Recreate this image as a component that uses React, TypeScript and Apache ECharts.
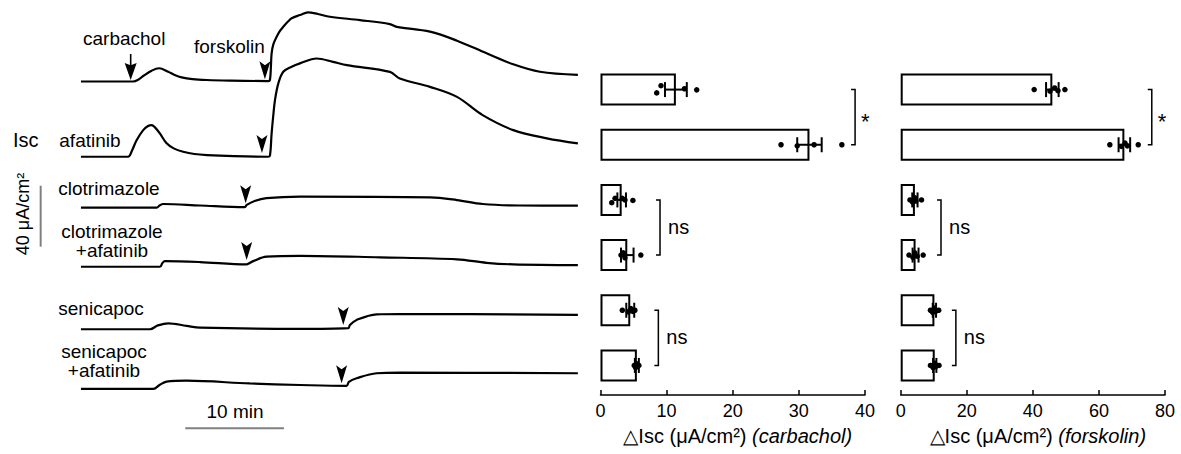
import React, { useEffect, useRef } from "react";
import * as echarts from "echarts";

const FONT = "'Liberation Sans', Arial, Helvetica, sans-serif";

// ---- Isc traces: time (min) and Isc (µA/cm², relative to each trace's baseline)
const controlTime = [0, 5.3, 5.8, 6.31, 7.16, 7.93, 8.84, 9.5, 10.2, 11.3, 12.74, 15.0, 18.98, 19.15, 19.25, 19.32, 19.5, 19.83, 20.2, 20.5, 21.0, 21.35, 22.19, 23.0, 24.0, 25.23, 28.27, 31.3, 32.0, 35.36, 38.1, 41.1, 43.8, 46.5, 50.35];
const controlIsc = [0, 0, 1.2, 3.6, 7.1, 8.7, 6.4, 4.3, 2.75, 1.6, 1.0, 0.6, 0.3, 1.0, 10.0, 18.5, 24.5, 29.4, 33.5, 35.9, 39.5, 41.5, 43.6, 45.4, 44.3, 42.5, 40.3, 37.7, 35.9, 32.7, 26.8, 18.5, 11.3, 6.4, 4.3];

const afatinibTime = [0, 4.76, 5.2, 5.64, 6.31, 6.8, 7.16, 7.5, 8.0, 8.68, 9.4, 10.36, 11.5, 12.77, 15.5, 18.95, 19.15, 19.32, 19.5, 19.66, 20.0, 20.5, 21.35, 22.19, 23.88, 25.53, 26.95, 31.3, 32.3, 35.36, 38.1, 40.7, 43.8, 47.2, 50.35];
const afatinibIsc = [0, 0, 4.5, 10.9, 17.5, 20.2, 20.8, 19.3, 15.3, 8.8, 5.5, 3.3, 1.8, 1.1, 0.4, 0, 0.8, 15.3, 28.0, 37.2, 48.2, 55.8, 59.1, 61.3, 64.5, 62.3, 60.1, 55.7, 51.4, 45.9, 39.3, 27.3, 17.5, 12.1, 8.8];

const clotTime = [0, 7.67, 8.0, 8.34, 12.06, 16.6, 16.8, 17.6, 18.8, 22.2, 35.4, 38.1, 40.7, 44.5, 50.35];
const clotIsc = [0, 0, 1.6, 2.4, 1.4, 0.3, 1.8, 4.4, 6.2, 7.2, 6.7, 5.0, 2.4, 1.4, 1.3];

const clotAfaTime = [0, 8.0, 8.25, 8.5, 12.06, 16.8, 17.0, 17.46, 18.8, 22.2, 30.3, 38.1, 41.1, 43.8, 50.35];
const clotAfaIsc = [0, 0, 2.4, 3.7, 3.1, 1.6, 2.1, 3.7, 6.6, 7.2, 6.2, 4.9, 2.6, 1.6, 1.1];

const seniTime = [0, 6.99, 7.8, 8.85, 10.7, 12.06, 22.2, 27.1, 27.25, 27.93, 29.96, 32.3, 50.35];
const seniIsc = [0, 0, 2.5, 3.9, 2.2, 1.0, 0.2, 0.7, 2.8, 6.1, 9.8, 10.0, 9.4];

const seniAfaTime = [0, 7.33, 8.0, 8.68, 10.7, 17.1, 22.2, 26.9, 27.15, 27.93, 29.96, 32.3, 50.35];
const seniAfaIsc = [0, 0, 2.8, 4.8, 5.4, 3.6, 2.6, 2.0, 4.6, 7.0, 10.3, 10.7, 10.3];

// drug additions (time, Isc at arrow tip)
const forskolinArrowTime = [18.64, 18.34, 16.69, 16.79, 26.58, 26.41];
const forskolinArrowIsc = [1.4, 2.4, 2.9, 4.4, 2.8, 3.7];
const carbacholArrowTime = 5.04;
const carbacholArrowIsc = 1.0;

// ---- bar charts
const rows = ["control", "afatinib", "clotrimazole", "clotrimazole+afatinib", "senicapoc", "senicapoc+afatinib"];
const carbMean = [11.4, 31.6, 3.2, 4.05, 4.5, 5.5];
const carbSem = [1.65, 1.85, 0.65, 0.95, 0.6, 0.3];
const carbPoints = [
  [8.5, 9.15, 12.7, 14.55],
  [27.3, 29.75, 32.3, 36.5],
  [1.7, 2.2, 3.3, 3.7, 4.9],
  [3.1, 3.45, 3.7, 6.1],
  [3.3, 4.2, 4.6, 4.9, 5.2],
  [5.1, 5.3, 5.5, 5.6, 5.8],
];
const carbJitter = [
  [0.06, -0.07, -0.015, 0.005],
  [0.0, 0.02, 0.0, 0.0],
  [0.05, -0.03, -0.03, 0.0, 0.01],
  [0.0, -0.04, 0.05, 0.0],
  [0.0, 0.03, -0.03, 0.02, 0.0],
  [0.0, 0.04, -0.03, 0.02, 0.0],
];
const forsMean = [45.9, 67.7, 4.3, 4.5, 10.2, 10.3];
const forsSem = [1.9, 1.75, 0.8, 0.9, 0.5, 0.5];
const forsPoints = [
  [40.4, 45.2, 46.6, 47.6, 49.7],
  [63.3, 66.8, 67.9, 68.6, 71.9],
  [2.8, 3.6, 4.2, 4.6, 6.3],
  [2.5, 3.7, 4.3, 5.0, 6.8],
  [9.0, 9.7, 10.2, 10.6, 11.5],
  [9.0, 9.8, 10.3, 10.6, 11.6],
];
const forsJitter = [
  [0.0, 0.03, -0.03, 0.02, 0.0],
  [0.0, 0.03, -0.03, 0.02, 0.0],
  [0.0, 0.04, -0.04, 0.02, 0.0],
  [0.0, 0.04, -0.04, 0.02, 0.0],
  [0.0, 0.04, -0.04, 0.02, 0.0],
  [0.0, 0.04, -0.04, 0.02, 0.0],
];
// significance brackets: [x position, first row, second row]
const carbBrackets = [[38.5, 0, 1], [9.0, 2, 3], [8.75, 4, 5]];
const forsBrackets = [[76.0, 0, 1], [12.2, 2, 3], [16.7, 4, 5]];
const bracketLabels = ["*", "ns", "ns"];

// ---- layout constants (trace stacking, in µA/cm² units of the trace axis)
const TRACE_OFFSET = [-53.5, -102.9, -136.3, -175.1, -216.1, -255.3];
const SCALE_T = [10.57, 20.57];
const SCALE_T_Y = -281.1;
const SCALE_I_T = -4.08;
const SCALE_I_TOP = -121.9;

const traceSets = [
  [controlTime, controlIsc],
  [afatinibTime, afatinibIsc],
  [clotTime, clotIsc],
  [clotAfaTime, clotAfaIsc],
  [seniTime, seniIsc],
  [seniAfaTime, seniAfaIsc],
];

const ARROWHEAD = "path://M0,0 L5.5,4 L11,0 L5.5,18 Z";
const CARB_ARROW = "path://M5.4,0 L6.6,0 L6.6,11 L10.5,9 L6,26 L1.5,9 L5.4,11 Z";

function errorRender(params: any, api: any) {
  const m = api.value(0);
  const s = api.value(1);
  const r = api.value(2);
  const p0 = api.coord([m - s, r]);
  const p1 = api.coord([m + s, r]);
  const h = 7.5;
  const st = { stroke: "#000", lineWidth: 2 };
  return {
    type: "group",
    children: [
      { type: "line", shape: { x1: p0[0], y1: p0[1], x2: p1[0], y2: p1[1] }, style: st },
      { type: "line", shape: { x1: p0[0], y1: p0[1] - h, x2: p0[0], y2: p0[1] + h }, style: st },
      { type: "line", shape: { x1: p1[0], y1: p1[1] - h, x2: p1[0], y2: p1[1] + h }, style: st },
    ],
  };
}

function bracketRender(params: any, api: any) {
  const x = api.value(0);
  const a = api.coord([x, api.value(1)]);
  const b = api.coord([x, api.value(2)]);
  const label = bracketLabels[params.dataIndex];
  const star = label === "*";
  return {
    type: "group",
    children: [
      {
        type: "polyline",
        shape: { points: [[a[0] - 4, a[1]], [a[0], a[1]], [b[0], b[1]], [b[0] - 4, b[1]]] },
        style: { stroke: "#000", lineWidth: 1.5, fill: null },
      },
      {
        type: "text",
        x: a[0] + (star ? 6 : 8),
        y: (a[1] + b[1]) / 2 + (star ? 4 : -1),
        style: {
          text: label,
          fill: "#000",
          fontSize: star ? 22 : 20,
          fontFamily: FONT,
          align: "left",
          verticalAlign: "middle",
        },
      },
    ],
  };
}

function barPanel(gi: number, mean: number[], sem: number[], pts: number[][], jit: number[][], brackets: number[][]) {
  const xi = gi;
  const yCat = gi * 2 - 1;
  const yVal = gi * 2;
  const scatter: number[][] = [];
  pts.forEach((row, r) => row.forEach((v, k) => scatter.push([v, r + jit[r][k]])));
  return [
    {
      type: "bar",
      xAxisIndex: xi,
      yAxisIndex: yCat,
      data: mean,
      barWidth: 32,
      itemStyle: { color: "#fff", borderColor: "#000", borderWidth: 2 },
      z: 1,
    },
    {
      type: "custom",
      xAxisIndex: xi,
      yAxisIndex: yVal,
      renderItem: errorRender,
      encode: { x: 0, y: 2 },
      data: mean.map((m, r) => [m, sem[r], r]),
      z: 3,
    },
    {
      type: "scatter",
      xAxisIndex: xi,
      yAxisIndex: yVal,
      data: scatter,
      symbolSize: 5.5,
      itemStyle: { color: "#000", opacity: 1 },
      z: 4,
    },
    {
      type: "custom",
      xAxisIndex: xi,
      yAxisIndex: yVal,
      renderItem: bracketRender,
      encode: { x: 0, y: 1 },
      data: brackets,
      z: 4,
    },
  ];
}

function valueXAxis(gi: number, max: number, interval: number, name: string) {
  return {
    gridIndex: gi,
    type: "value",
    position: "bottom",
    min: 0,
    max,
    interval,
    offset: 2,
    axisLine: { show: true, onZero: false, lineStyle: { color: "#000", width: 1.5 } },
    axisTick: { show: true, inside: true, length: 5, lineStyle: { color: "#000", width: 1.5 } },
    axisLabel: { color: "#000", fontSize: 18, fontFamily: FONT, margin: 7 },
    splitLine: { show: false },
    name: `{a|△Isc (μA/cm²)} {b|(${name})}`,
    nameLocation: "middle",
    nameGap: 31,
    nameTextStyle: {
      color: "#000",
      fontSize: 20,
      fontFamily: FONT,
      padding: [0, 0, 0, 10],
      rich: {
        a: { color: "#000", fontSize: 20, fontFamily: FONT },
        b: { color: "#000", fontSize: 20, fontFamily: FONT, fontStyle: "italic" },
      },
    },
  };
}

function buildOption() {
  const traceSeries = traceSets.map(([t, v], i) => ({
    type: "line",
    xAxisIndex: 0,
    yAxisIndex: 0,
    data: t.map((tt, k) => [tt, v[k] + TRACE_OFFSET[i]]),
    showSymbol: false,
    smooth: 0.35,
    lineStyle: { color: "#000", width: 2.2 },
    z: 2,
  }));

  const label = (text: string, x: number, y: number, align = "left", extra: any = {}) => ({
    type: "text",
    x,
    y,
    ...extra,
    style: {
      text,
      fill: "#000",
      fontSize: 19,
      fontFamily: FONT,
      align,
      verticalAlign: "middle",
      lineHeight: 19,
      ...(extra.style || {}),
    },
  });

  return {
    animation: false,
    backgroundColor: "#fff",
    grid: [
      { left: 0, top: 0, width: 592.2, height: 454 },
      { left: 600.5, top: 62, width: 264.5, height: 331 },
      { left: 900.7, top: 62, width: 264.3, height: 331 },
    ],
    xAxis: [
      { gridIndex: 0, type: "value", min: -8.2, max: 51.8, show: false },
      valueXAxis(1, 40, 10, "carbachol"),
      valueXAxis(2, 80, 20, "forskolin"),
    ],
    yAxis: [
      { gridIndex: 0, type: "value", min: -298, max: 0, show: false },
      { gridIndex: 1, type: "category", data: rows, inverse: true, show: false },
      { gridIndex: 1, type: "value", min: -0.5, max: 5.5, inverse: true, show: false },
      { gridIndex: 2, type: "category", data: rows, inverse: true, show: false },
      { gridIndex: 2, type: "value", min: -0.5, max: 5.5, inverse: true, show: false },
    ],
    series: [
      ...traceSeries,
      {
        type: "scatter",
        xAxisIndex: 0,
        yAxisIndex: 0,
        data: forskolinArrowTime.map((t, i) => [t, forskolinArrowIsc[i] + TRACE_OFFSET[i]]),
        symbol: ARROWHEAD,
        symbolSize: [11, 18],
        symbolOffset: [0, "-50%"],
        itemStyle: { color: "#000", opacity: 1 },
        z: 3,
      },
      {
        type: "scatter",
        xAxisIndex: 0,
        yAxisIndex: 0,
        data: [[carbacholArrowTime, carbacholArrowIsc + TRACE_OFFSET[0]]],
        symbol: CARB_ARROW,
        symbolSize: [12, 26],
        symbolOffset: [0, "-50%"],
        itemStyle: { color: "#000", opacity: 1 },
        z: 3,
      },
      {
        type: "line",
        xAxisIndex: 0,
        yAxisIndex: 0,
        data: [[SCALE_T[0], SCALE_T_Y], [SCALE_T[1], SCALE_T_Y]],
        showSymbol: false,
        lineStyle: { color: "#808080", width: 2 },
      },
      {
        type: "line",
        xAxisIndex: 0,
        yAxisIndex: 0,
        data: [[SCALE_I_T, SCALE_I_TOP], [SCALE_I_T, SCALE_I_TOP - 40]],
        showSymbol: false,
        lineStyle: { color: "#808080", width: 2 },
      },
      ...barPanel(1, carbMean, carbSem, carbPoints, carbJitter, carbBrackets),
      ...barPanel(2, forsMean, forsSem, forsPoints, forsJitter, forsBrackets),
    ],
    graphic: [
      label("carbachol", 83, 38.5),
      label("forskolin", 194, 46),
      label("Isc", 13, 139.5, "left", { style: { fontSize: 20 } }),
      label("afatinib", 59.3, 140),
      label("clotrimazole", 58.3, 188),
      label("clotrimazole\n+afatinib", 112, 241, "center"),
      label("senicapoc", 58.3, 308),
      label("senicapoc\n+afatinib", 104, 360.5, "center"),
      label("10 min", 235, 411.5, "center"),
      label("40 μA/cm²", 23.3, 214, "center", { rotation: Math.PI / 2, style: { fontSize: 18 } }),
    ],
  };
}

export default function App() {
  const ref = useRef<HTMLDivElement>(null);
  useEffect(() => {
    const chart = echarts.init(ref.current as HTMLDivElement, null, { renderer: "svg", width: 1181, height: 454 });
    chart.setOption(buildOption() as any);
    return () => chart.dispose();
  }, []);
  return (
    <div
      ref={ref}
      style={{ position: "fixed", left: 0, top: 0, width: 1181, height: 454, background: "#fff" }}
    />
  );
}
